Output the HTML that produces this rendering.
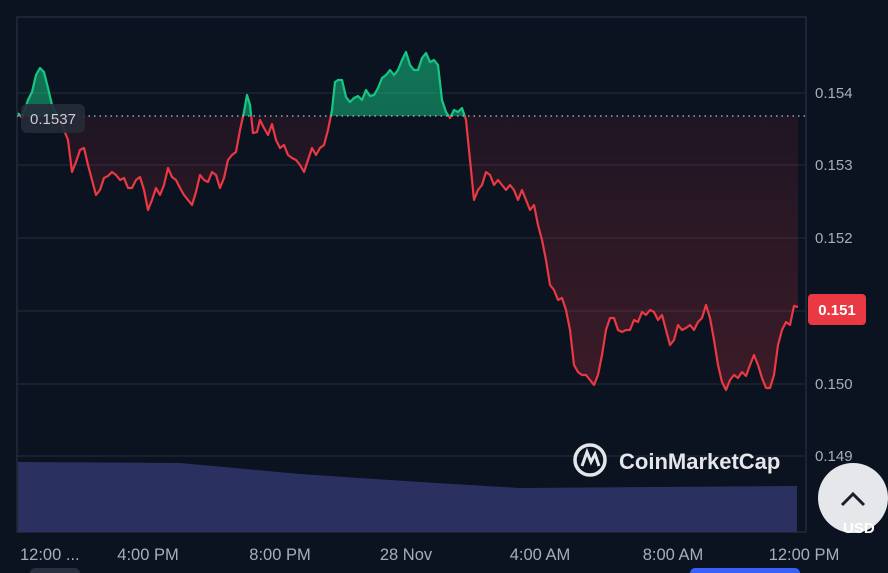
<!DOCTYPE html>
<html><head><meta charset="utf-8"><style>
html,body{margin:0;padding:0;background:#0b1220;width:888px;height:573px;overflow:hidden;font-family:"Liberation Sans",sans-serif}
svg{position:absolute;left:0;top:0}
</style></head><body>
<svg id="s" width="888" height="573" viewBox="0 0 888 573">
<defs>
<linearGradient id="gg" x1="0" y1="0" x2="0" y2="1"><stop offset="0" stop-color="#16c784" stop-opacity="0.55"/><stop offset="1" stop-color="#16c784" stop-opacity="0.25"/></linearGradient>
<linearGradient id="rg" x1="0" y1="0" x2="0" y2="1"><stop offset="0" stop-color="#ea3943" stop-opacity="0.06"/><stop offset="1" stop-color="#ea3943" stop-opacity="0.22"/></linearGradient>
<clipPath id="above"><rect x="0" y="0" width="888" height="116"/></clipPath>
<clipPath id="below"><rect x="0" y="116" width="888" height="460"/></clipPath>
</defs>
<rect x="17" y="17" width="789" height="515" fill="none" stroke="#2a3040" stroke-width="1.2"/>
<g stroke="#262c3a" stroke-width="1">
<line x1="17" y1="93" x2="806" y2="93"/><line x1="17" y1="165" x2="806" y2="165"/>
<line x1="17" y1="238" x2="806" y2="238"/><line x1="17" y1="311" x2="806" y2="311"/>
<line x1="17" y1="384" x2="806" y2="384"/><line x1="17" y1="456" x2="806" y2="456"/>
</g>
<polygon points="18,462 180,463 300,474 420,482 520,488 790,486 797,486 797,532 18,532" fill="#2a3160"/>
<g id="chart"></g>
<line x1="17" y1="116" x2="806" y2="116" stroke="#b8bcc8" stroke-width="1.3" stroke-dasharray="1.5 4"/>
<rect x="21" y="104" width="64" height="29" rx="6" fill="#262b38" opacity="0.9"/>
<text x="53" y="124" fill="#c9ccd4" font-size="15" text-anchor="middle">0.1537</text>
<g fill="#a8adb9" font-size="15">
<text x="815" y="98">0.154</text><text x="815" y="170">0.153</text><text x="815" y="243">0.152</text>
<text x="815" y="389">0.150</text><text x="815" y="461">0.149</text>
</g>
<rect x="808" y="294" width="58" height="31" rx="4" fill="#ea3943"/>
<text x="837" y="315" fill="#fff" font-size="15" font-weight="bold" text-anchor="middle">0.151</text>
<g fill="#a8adb9" font-size="16.5">
<text x="20" y="560">12:00 ...</text><text x="148" y="560" text-anchor="middle">4:00 PM</text>
<text x="280" y="560" text-anchor="middle">8:00 PM</text><text x="406" y="560" text-anchor="middle">28 Nov</text>
<text x="540" y="560" text-anchor="middle">4:00 AM</text><text x="673" y="560" text-anchor="middle">8:00 AM</text>
<text x="804" y="560" text-anchor="middle">12:00 PM</text>
</g>
<circle cx="590" cy="460" r="15" fill="none" stroke="#e4e6ea" stroke-width="3.5"/>
<path d="M582,466 L587,452 L591,462 L595,454 L599,466" fill="none" stroke="#e4e6ea" stroke-width="3"/>
<text x="619" y="469" fill="#e4e6ea" font-size="22" font-weight="bold">CoinMarketCap</text>
<circle cx="853" cy="498" r="35" fill="#e6e7ea"/>
<path d="M842,505 L853,494 L864,505" fill="none" stroke="#1b1f2a" stroke-width="3"/>
<text x="843" y="533" fill="#ffffff" font-size="15" font-weight="bold">USD</text>
<rect x="690" y="568" width="110" height="10" rx="5" fill="#3861fb"/>
<rect x="30" y="568" width="50" height="10" rx="5" fill="#2a3040"/>
</svg>
<script>
var p=[[18,113],[22,118],[28,100],[32,92],[36,75],[40,68],[44,72],[48,88],[52,105],[62,125],[68,140],[72,172],[76,162],[80,150],[84,148],[88,165],[92,180],[96,195],[100,190],[104,178],[108,176],[112,172],[116,175],[120,180],[124,178],[128,188],[132,188],[136,180],[140,177],[144,190],[148,210],[152,200],[156,188],[160,195],[164,185],[168,168],[172,177],[176,180],[180,188],[184,195],[188,200],[192,205],[196,192],[200,175],[204,180],[208,182],[212,172],[216,175],[220,188],[224,178],[228,160],[232,155],[236,152],[240,130],[244,112],[247,95],[250,105],[253,133],[257,132],[260,120],[264,128],[268,135],[272,124],[276,140],[280,148],[284,145],[288,155],[292,158],[296,160],[300,165],[304,172],[308,160],[312,148],[316,155],[320,148],[324,145],[328,130],[332,110],[335,82],[338,80],[342,80],[346,97],[350,102],[354,98],[358,96],[362,100],[366,90],[370,96],[374,95],[378,88],[382,78],[386,75],[390,70],[394,75],[398,70],[402,60],[406,52],[410,65],[414,70],[418,70],[422,58],[426,53],[430,62],[434,60],[438,65],[442,100],[446,112],[450,118],[454,110],[458,112],[462,108],[466,120],[470,160],[474,200],[478,190],[482,185],[486,172],[490,175],[494,185],[498,180],[502,185],[506,190],[510,185],[514,190],[518,200],[522,190],[526,200],[530,210],[534,205],[538,225],[542,240],[546,260],[550,285],[554,290],[558,300],[562,298],[566,310],[570,330],[574,365],[578,372],[582,375],[586,375],[590,380],[594,385],[598,375],[602,355],[606,330],[610,318],[614,318],[618,330],[622,332],[626,330],[630,330],[634,320],[638,322],[642,312],[646,315],[650,310],[654,312],[658,320],[662,315],[666,330],[670,345],[674,340],[678,325],[682,330],[686,328],[690,325],[694,330],[698,322],[702,318],[706,305],[710,318],[714,340],[718,365],[722,382],[726,390],[730,380],[734,375],[738,378],[742,372],[746,376],[750,365],[754,355],[758,365],[762,378],[766,388],[770,388],[774,375],[778,345],[782,330],[786,322],[790,325],[794,306],[798,307]];
var l="M"+p.map(function(a){return a.join(",")}).join("L");
var area=l+"L798,116L18,116Z";
var g=document.getElementById("chart");
g.innerHTML='<path d="'+area+'" fill="url(#gg)" clip-path="url(#above)"/>'+
'<path d="'+area+'" fill="url(#rg)" clip-path="url(#below)"/>'+
'<path d="'+l+'" fill="none" stroke="#16c784" stroke-width="2.2" stroke-linejoin="round" clip-path="url(#above)"/>'+
'<path d="'+l+'" fill="none" stroke="#ea3943" stroke-width="2.2" stroke-linejoin="round" clip-path="url(#below)"/>';
</script>
</body></html>
